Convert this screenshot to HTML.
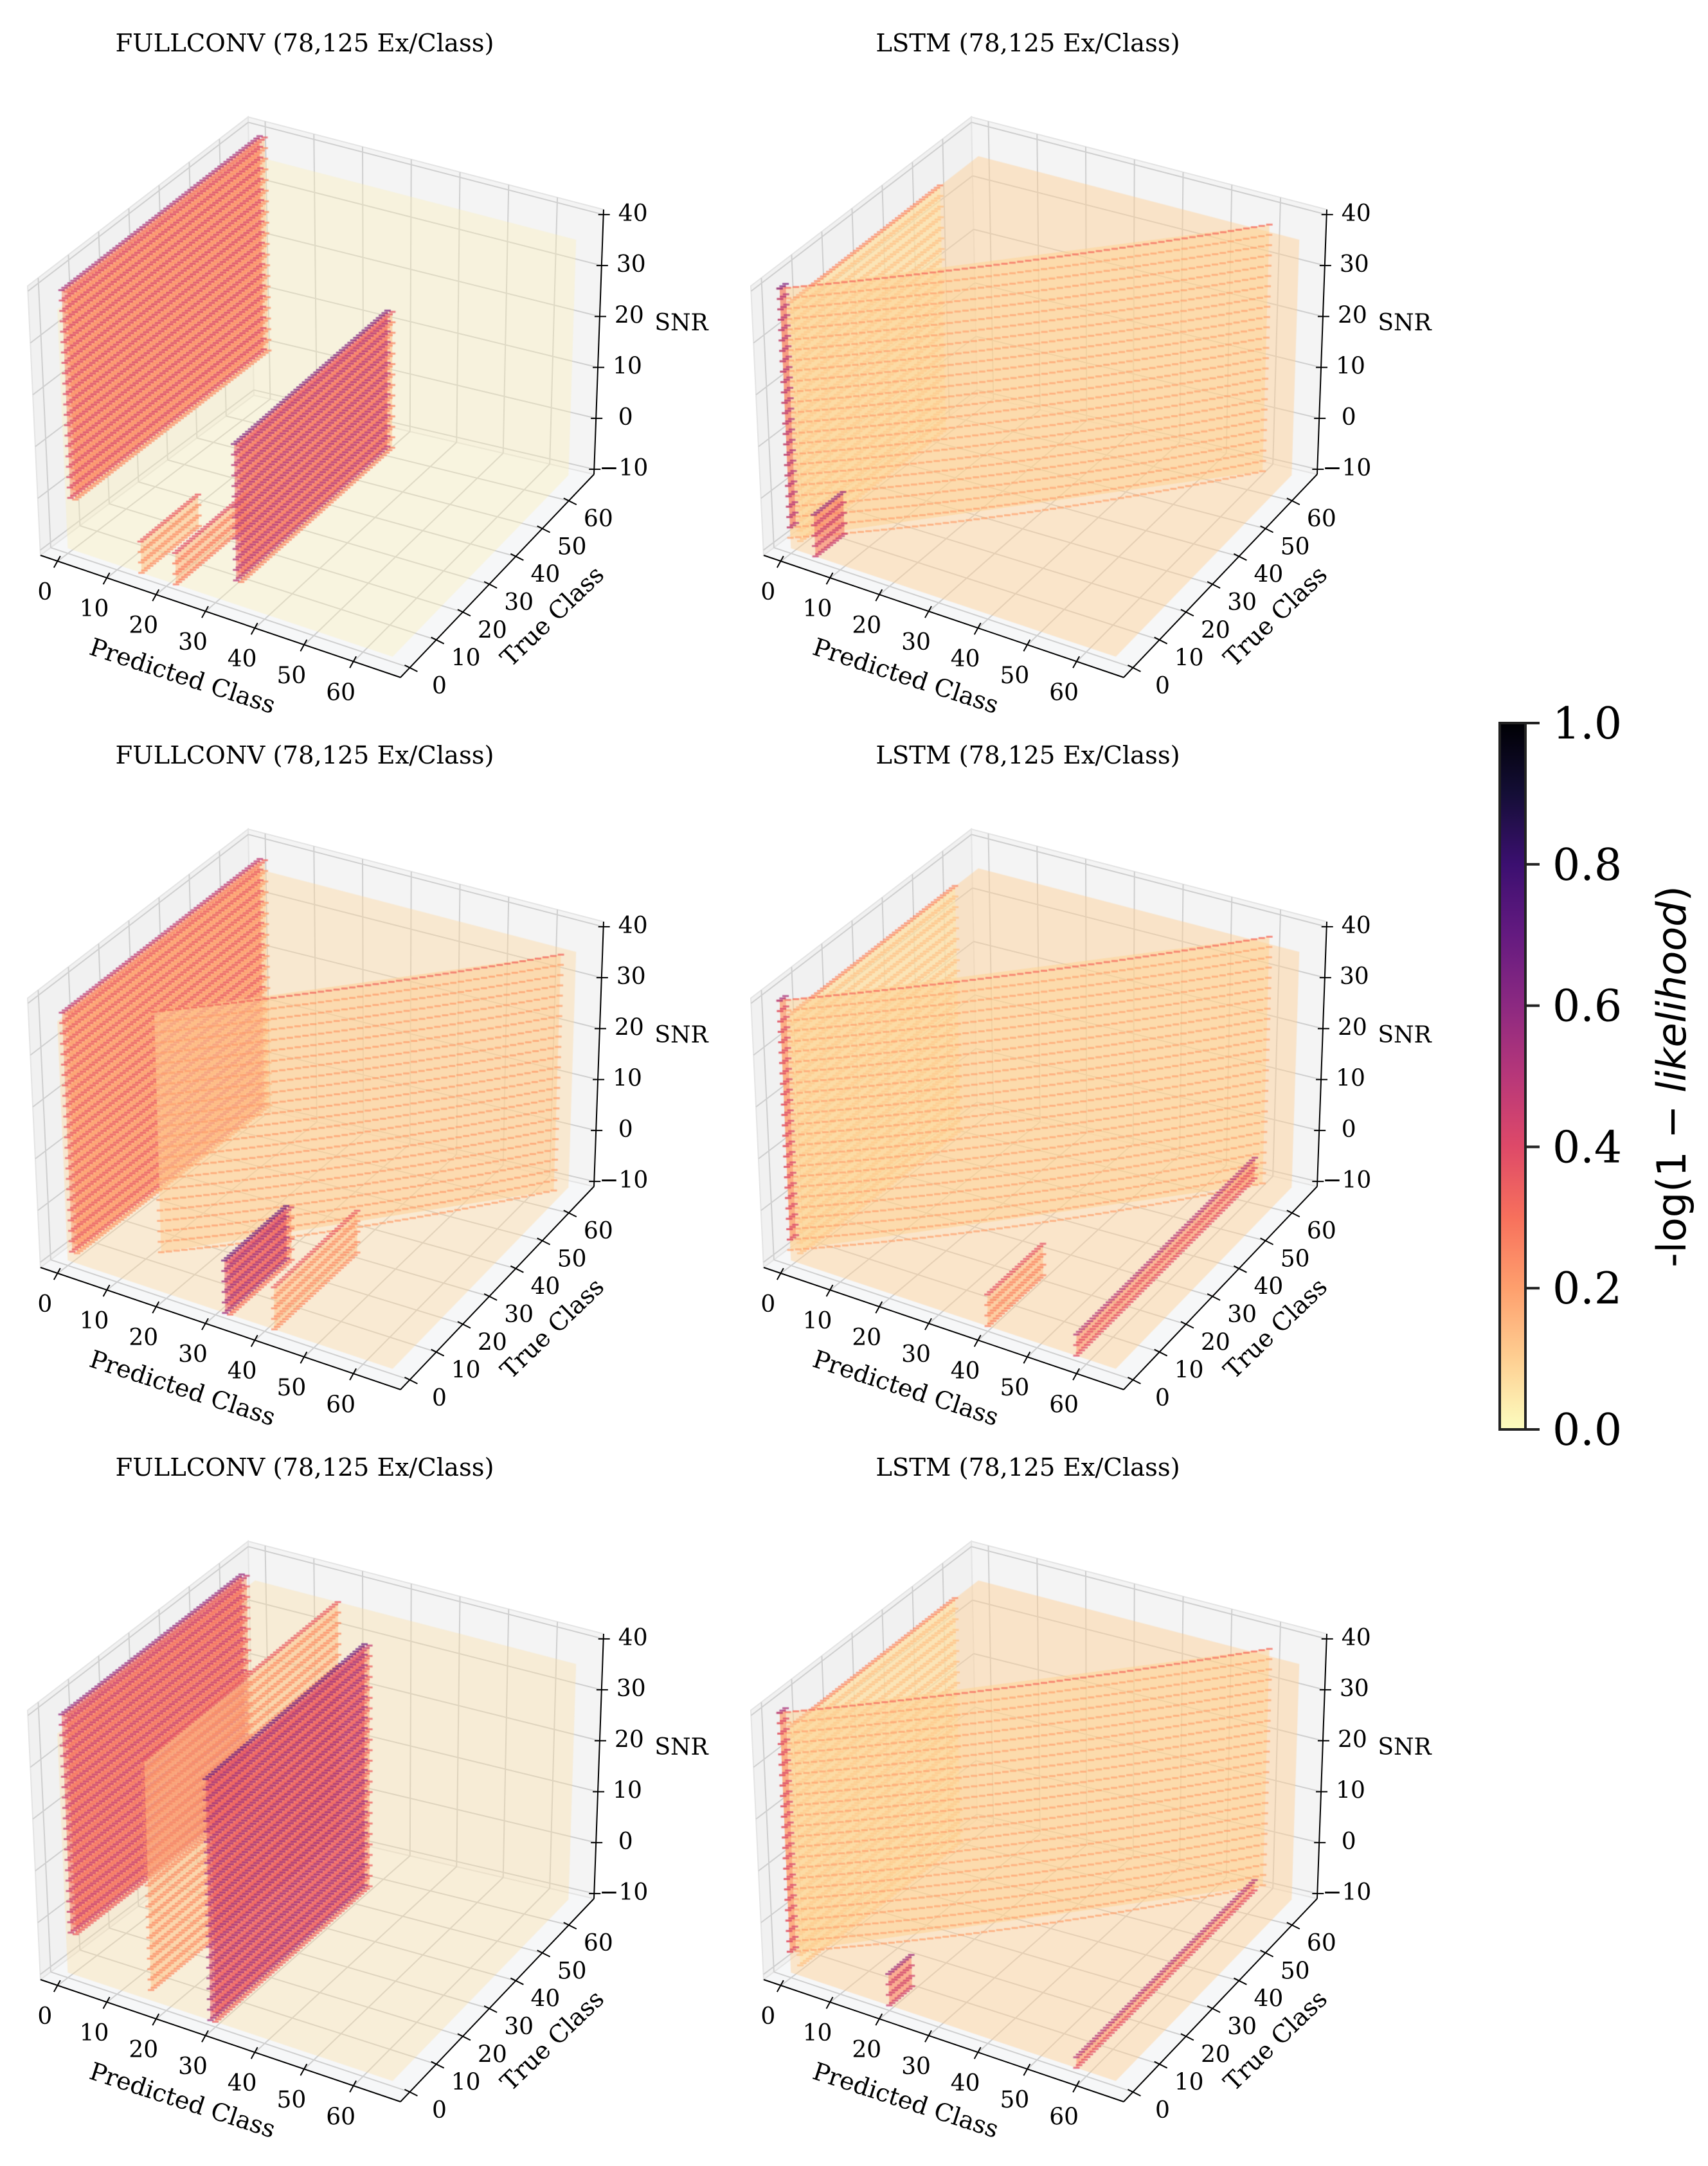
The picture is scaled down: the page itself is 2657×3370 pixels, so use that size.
<!DOCTYPE html>
<html><head><meta charset="utf-8">
<style>
html,body{margin:0;padding:0;background:#fff;}
#wrap{position:relative;width:2657px;height:3370px;overflow:hidden;}
svg,canvas{position:absolute;left:0;top:0;}
text{font-family:"DejaVu Serif","Liberation Serif",serif;fill:#000;}
</style></head>
<body>
<div id="wrap">
<svg id="bg" width="2657" height="3370"></svg>
<canvas id="cv" width="2657" height="3370"></canvas>
<svg id="fg" width="2657" height="3370"></svg>
</div>
<script>
// ---- data ----
const panelTitles = ["FULLCONV (78,125 Ex/Class)","LSTM (78,125 Ex/Class)","FULLCONV (78,125 Ex/Class)","LSTM (78,125 Ex/Class)","FULLCONV (78,125 Ex/Class)","LSTM (78,125 Ex/Class)"];
const predTicks = [0,10,20,30,40,50,60];
const trueTicks = [0,10,20,30,40,50,60];
const snrTicks = [-10,0,10,20,30,40];
const snrTickLabels = ["\u221210","0","10","20","30","40"];
const cbarTicks = [0.0,0.2,0.4,0.6,0.8,1.0];
const cbarTickLabels = ["0.0","0.2","0.4","0.6","0.8","1.0"];
// walls per panel: start pred, start true, end pred, end true, snr low, snr high, value
const wallPred0 = [[2,1,15,22,33,32],[2,0,0,5],[2,1,12,42,33,32],[2,0,0,40,58],[2,1,17,30,29],[2,0,0,20,58]];
const wallTrue0 = [[0,0,0,0,4,4],[0,0,0,0],[0,0,12,0,0,0],[0,0,0,0,0],[0,0,0,0,0],[0,0,0,0,0]];
const wallPred1 = [[2,1,15,22,33,32],[2,62,0,5],[2,1,64,42,33,32],[2,62,0,40,58],[2,1,17,30,29],[2,62,0,20,58]];
const wallTrue1 = [[66,66,20,25,58,58],[50,62,2,10],[66,66,64,30,22,22],[55,62,2,20,66],[60,60,66,55,55],[55,62,2,8,66]];
const wallSnrLo = [[0,0,-10,-10,-8,-8],[-8,-8,-6,-10],[-8,-8,-10,-10,-10,-10],[-8,-8,-6,-10,-10],[-2,-2,-8,-10,-10],[-8,-6,-6,-10,-10]];
const wallSnrHi = [[40,40,-4,-4,18,18],[38,40,40,-2],[38,38,36,-2,0,0],[38,40,40,-4,-6],[40,40,36,36,36],[38,40,40,-4,-8]];
const wallValue = [[0.18,0.35,0.18,0.22,0.2,0.45],[0.07,0.13,0.45,0.4],[0.15,0.3,0.14,0.18,0.25,0.5],[0.07,0.13,0.35,0.2,0.33],[0.28,0.4,0.18,0.28,0.5],[0.07,0.13,0.35,0.38,0.33]];
const hazeValue = [0.03,0.1,0.08,0.1,0.07,0.1];
const hazeAlpha = [0.35,0.45,0.4,0.45,0.35,0.45];

// ---- geometry ----
const colX=[0,1125], rowY=[0,1108,2216];
const PMIN=-3.5,PMAX=69.5,TMIN=-3.5,TMAX=69.5,ZMIN=-11,ZMAX=41;
const F=[[63,864],[623,1054],[924,738],[395,615]];
const V=[[-20,-419],[5,-430],[15,-412],[-9,-433]];
function proj(ox,oy,p,t,z){
  const u=(p-PMIN)/(PMAX-PMIN), v=(t-TMIN)/(TMAX-TMIN), w=(z-ZMIN)/(ZMAX-ZMIN);
  const c=[(1-u)*(1-v),u*(1-v),u*v,(1-u)*v];
  let x=0,y=0;
  for(let i=0;i<4;i++){x+=c[i]*(F[i][0]+w*V[i][0]);y+=c[i]*(F[i][1]+w*V[i][1]);}
  return [ox+x,oy+y];
}
const magma=["#000004","#140e36","#3b0f70","#641a80","#8c2981","#b73779","#de4968","#f7705c","#fe9f6d","#fecf92","#fcfdbf"];
function hex(h){return [parseInt(h.substr(1,2),16),parseInt(h.substr(3,2),16),parseInt(h.substr(5,2),16)];}
function cmap(v){ // magma_r
  let s=(1-Math.max(0,Math.min(1,v)))*10; let i=Math.min(9,Math.floor(s)); let f=s-i;
  const a=hex(magma[i]),b=hex(magma[i+1]);
  return [0,1,2].map(k=>Math.round(a[k]+(b[k]-a[k])*f));
}
const NS="http://www.w3.org/2000/svg";
const bg=document.getElementById('bg'), fg=document.getElementById('fg');
function mk(parent,tag,attrs){const e=document.createElementNS(NS,tag);for(const k in attrs)e.setAttribute(k,attrs[k]);parent.appendChild(e);return e;}
function pts(a){return a.map(p=>p[0].toFixed(1)+","+p[1].toFixed(1)).join(" ");}

const ctx=document.getElementById('cv').getContext('2d');

for(let k=0;k<6;k++){
  const ox=colX[k%2], oy=rowY[Math.floor(k/2)];
  const P=(p,t,z)=>proj(ox,oy,p,t,z);
  const g=mk(bg,'g',{});
  
  
  const left=mk(g,'polygon',{points:pts([P(PMIN,TMIN,ZMIN),P(PMIN,TMAX,ZMIN),P(PMIN,TMAX,ZMAX),P(PMIN,TMIN,ZMAX)]),fill:'#f1f1f1',stroke:'#e4e4e4','stroke-width':2});
  
  
  const back=mk(g,'polygon',{points:pts([P(PMIN,TMAX,ZMIN),P(PMAX,TMAX,ZMIN),P(PMAX,TMAX,ZMAX),P(PMIN,TMAX,ZMAX)]),fill:'#f4f4f4',stroke:'#e4e4e4','stroke-width':2});
  
  
  const floor=mk(g,'polygon',{points:pts([P(PMIN,TMIN,ZMIN),P(PMAX,TMIN,ZMIN),P(PMAX,TMAX,ZMIN),P(PMIN,TMAX,ZMIN)]),fill:'#f6f7f8',stroke:'#e4e4e4','stroke-width':2});
  
  
  const gl=[];
  trueTicks.forEach(t=>{gl.push([P(PMIN,t,ZMIN),P(PMIN,t,ZMAX)]);gl.push([P(PMIN,t,ZMIN),P(PMAX,t,ZMIN)]);});
  predTicks.forEach(p=>{gl.push([P(p,TMAX,ZMIN),P(p,TMAX,ZMAX)]);gl.push([P(p,TMIN,ZMIN),P(p,TMAX,ZMIN)]);});
  snrTicks.forEach(z=>{gl.push([P(PMIN,TMIN,z),P(PMIN,TMAX,z)]);gl.push([P(PMIN,TMAX,z),P(PMAX,TMAX,z)]);});
  gl.forEach(l=>{const e=mk(g,'line',{x1:l[0][0],y1:l[0][1],x2:l[1][0],y2:l[1][1],stroke:'#cfcfcf','stroke-width':2});
    
    });

  // haze
  const hc=cmap(hazeValue[k]);
  ctx.fillStyle=`rgba(${hc[0]},${hc[1]},${hc[2]},${hazeAlpha[k]})`;
  const hz=[P(0,0,-10),P(66,0,-10),P(66,66,-10),P(66,66,36),P(0,66,36),P(0,0,36)];
  ctx.beginPath();hz.forEach((q,i)=>i?ctx.lineTo(q[0],q[1]):ctx.moveTo(q[0],q[1]));ctx.closePath();ctx.fill();

  // walls
  for(let w=0;w<wallPred0[k].length;w++){
    const p0=wallPred0[k][w],t0=wallTrue0[k][w],p1=wallPred1[k][w],t1=wallTrue1[k][w];
    const zl=wallSnrLo[k][w],zh=wallSnrHi[k][w],val=wallValue[k][w];
    const c=cmap(val+0.06), cl=cmap(val*0.7);
    ctx.fillStyle=`rgba(${cl[0]},${cl[1]},${cl[2]},0.55)`;
    const q=[P(p0,t0,zl),P(p1,t1,zl),P(p1,t1,zh),P(p0,t0,zh)];
    ctx.beginPath();q.forEach((a,i)=>i?ctx.lineTo(a[0],a[1]):ctx.moveTo(a[0],a[1]));ctx.closePath();ctx.fill();
    const n=Math.max(1,Math.abs(p1-p0),Math.abs(t1-t0));
    for(let i=0;i<=n;i++){
      const p=p0+(p1-p0)*i/n, t=t0+(t1-t0)*i/n;
      for(let z=zl;z<=zh+0.01;z+=2){
        const top=(zh-z)<1.5;
        const cc=top?cmap(val+0.18):c;
        ctx.fillStyle=`rgba(${cc[0]},${cc[1]},${cc[2]},0.75)`;
        const s=P(p,t,z);
        ctx.fillRect(s[0]-5,s[1]-1.5,10,3);
      }
    }
  }

  // foreground axes
  const f=mk(fg,'g',{});
  
  
  const A=P(PMIN,TMIN,ZMIN),B=P(PMAX,TMIN,ZMIN),C=P(PMAX,TMAX,ZMIN),D=P(PMAX,TMAX,ZMAX);
  const ax1=mk(f,'line',{x1:A[0],y1:A[1],x2:B[0],y2:B[1],stroke:'#000','stroke-width':2});
  
  
  const ax2=mk(f,'line',{x1:B[0],y1:B[1],x2:C[0],y2:C[1],stroke:'#000','stroke-width':2});
  
  
  const ax3=mk(f,'line',{x1:C[0],y1:C[1],x2:D[0],y2:D[1],stroke:'#000','stroke-width':2});
  
  
  predTicks.forEach(p=>{const s=P(p,TMIN,ZMIN);
    const tk=mk(f,'line',{x1:s[0]+4,y1:s[1]-8,x2:s[0]-6,y2:s[1]+10,stroke:'#000','stroke-width':2});
    
    
    const tx=mk(f,'text',{x:s[0]-20,y:s[1]+60,'font-size':36,'text-anchor':'middle'});tx.textContent=p;
    
    });
  trueTicks.forEach(t=>{const s=P(PMAX,t,ZMIN);
    const tk=mk(f,'line',{x1:s[0]-8,y1:s[1]-4,x2:s[0]+12,y2:s[1]+6,stroke:'#000','stroke-width':2});
    
    
    const tx=mk(f,'text',{x:s[0]+46,y:s[1]+40,'font-size':36,'text-anchor':'middle'});tx.textContent=t;
    
    });
  snrTicks.forEach((z,i)=>{const s=P(PMAX,TMAX,z);
    const tk=mk(f,'line',{x1:s[0]-8,y1:s[1],x2:s[0]+10,y2:s[1],stroke:'#000','stroke-width':2});
    
    
    const tx=mk(f,'text',{x:s[0]+46,y:s[1]+10,'font-size':36,'text-anchor':'middle'});tx.textContent=snrTickLabels[i];
    
    });
  const t1=mk(f,'text',{x:ox+1060,y:oy+514,'font-size':36,'text-anchor':'middle'});t1.textContent='SNR';
  
  
  const t2=mk(f,'text',{x:0,y:0,'font-size':38,'text-anchor':'middle',transform:`translate(${ox+280},${oy+1064}) rotate(18)`});t2.textContent='Predicted Class';
  
  
  const t3=mk(f,'text',{x:0,y:0,'font-size':38,'text-anchor':'middle',transform:`translate(${ox+868},${oy+968}) rotate(-44)`});t3.textContent='True Class';
  
  
  const tt=mk(f,'text',{x:ox+474,y:oy+80,'font-size':38.5,'text-anchor':'middle'});tt.textContent=panelTitles[k];
  
  
}

// ---- colorbar ----
const cb=mk(fg,'g',{});


const defs=mk(cb,'defs',{});
const lg=mk(defs,'linearGradient',{id:'cg',x1:0,y1:1,x2:0,y2:0});
for(let i=0;i<=20;i++){const c=cmap(i/20);mk(lg,'stop',{offset:(i/20),'stop-color':`rgb(${c[0]},${c[1]},${c[2]})`});}
const CBX=2333,CBW=40,CBT=1125,CBB=2224;
const cbr=mk(cb,'rect',{x:CBX,y:CBT,width:CBW,height:CBB-CBT,fill:'url(#cg)',stroke:'#222','stroke-width':4});


cbarTicks.forEach((v,i)=>{const y=CBB-(CBB-CBT)*v;
  const tk=mk(cb,'line',{x1:CBX+CBW,y1:y,x2:CBX+CBW+22,y2:y,stroke:'#222','stroke-width':4});
  
  
  const tx=mk(cb,'text',{x:2415,y:y+24,'font-size':68});tx.textContent=cbarTickLabels[i];
  
  });
const cl=mk(cb,'text',{x:0,y:0,'font-size':62,'text-anchor':'middle',transform:'translate(2622,1675) rotate(-90)',style:'font-family:"DejaVu Sans","Liberation Sans",sans-serif'});
cl.innerHTML='-log(1 \u2212 <tspan font-style="italic">likelihood</tspan>)';


</script>
</body></html>
